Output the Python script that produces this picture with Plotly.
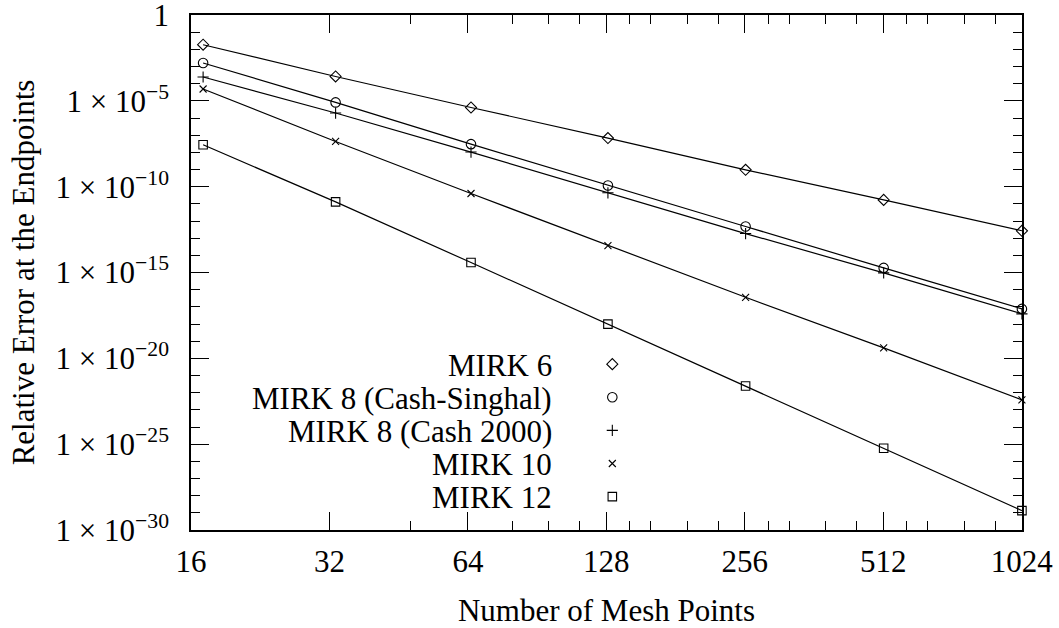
import plotly.graph_objects as go
import numpy as np

# Data
mesh_points = [17, 33, 65, 129, 257, 513, 1025]
mirk6 = [1.86e-2, 2.63e-4, 4.1e-6, 6.8e-8, 9.6e-10, 1.7e-11, 2.7e-13]
mirk8_cs = [1.6e-3, 8.1e-6, 3.0e-8, 1.17e-10, 4.8e-13, 1.86e-15, 7.6e-18]
mirk8_c2000 = [2.45e-4, 1.95e-6, 1.04e-8, 4.4e-11, 1.86e-13, 9.5e-16, 3.9e-18]
mirk10 = [4.9e-5, 4.3e-8, 4.0e-11, 3.7e-14, 3.6e-17, 4.1e-20, 3.8e-23]
mirk12 = [2.75e-8, 1.3e-11, 3.8e-15, 9.8e-19, 2.45e-22, 5.75e-26, 1.35e-29]

series_names = ["MIRK 6", "MIRK 8 (Cash-Singhal)", "MIRK 8 (Cash 2000)", "MIRK 10", "MIRK 12"]
series_values = [mirk6, mirk8_cs, mirk8_c2000, mirk10, mirk12]
symbols = ["diamond-open", "circle-open", "cross-thin-open", "x-thin-open", "square-open"]
sizes = [8.5, 9.5, 8, 7, 8.5]

x_ticks = [16, 32, 64, 128, 256, 512, 1024]
x_minor = [48, 80, 96, 112, 144, 160, 192, 224, 288, 320, 384, 448, 576, 640, 768, 896]
y_exps = [0, -5, -10, -15, -20, -25, -30]
y_ticktext = ["1"] + [f"1 × 10<sup>−{-e}</sup>" for e in y_exps[1:]]

FONT = "Liberation Serif, Times New Roman, serif"
FS = 31

fig = go.Figure()
for name, vals, sym, sz in zip(series_names, series_values, symbols, sizes):
    fig.add_trace(go.Scatter(
        x=mesh_points, y=vals, mode="lines+markers", name=name,
        line=dict(color="black", width=1.2),
        marker=dict(symbol=sym, size=sz, color="black",
                    line=dict(color="black", width=1.1)),
        cliponaxis=False, showlegend=False,
    ))

# Custom legend: right-aligned labels with markers on the right
leg_top = 0.322
leg_step = 0.0643
for i, (name, sym, sz) in enumerate(zip(series_names, symbols, sizes)):
    yy = leg_top - i * leg_step
    fig.add_trace(go.Scatter(
        x=[0.507], y=[yy], mode="markers", xaxis="x2", yaxis="y2",
        marker=dict(symbol=sym, size=sz, color="black",
                    line=dict(color="black", width=1.1)),
        cliponaxis=False, showlegend=False, hoverinfo="skip",
    ))
    fig.add_annotation(x=0.436, y=yy - 0.002, xref="paper", yref="paper",
                       text=name, showarrow=False, xanchor="right", yanchor="middle",
                       borderpad=0,
                       font=dict(family=FONT, size=FS, color="black"))

axis_common = dict(
    showline=True, linecolor="black", linewidth=1.6, mirror="allticks",
    ticks="inside", ticklen=18, tickwidth=1.1, tickcolor="black",
    showgrid=False, zeroline=False, ticklabeloverflow="allow", automargin=False,
    tickfont=dict(family=FONT, size=FS, color="black"),
)

fig.update_layout(
    width=1059, height=628,
    margin=dict(l=191, r=37, t=15, b=98),
    paper_bgcolor="white", plot_bgcolor="white",
    font=dict(family=FONT, size=FS, color="black"),
    xaxis=dict(
        type="log", range=[np.log10(16), np.log10(1024) + 0.0006],
        tickmode="array", tickvals=x_ticks, ticktext=[str(v) for v in x_ticks],
        minor=dict(tickmode="array", tickvals=x_minor, ticks="inside", ticklen=9,
                   tickwidth=1.1, tickcolor="black", showgrid=False),
        title=dict(text="Number of Mesh Points", font=dict(family=FONT, size=FS, color="black"),
                   standoff=29),
        ticklabelstandoff=3,
        **axis_common,
    ),
    yaxis=dict(
        type="log", range=[-30, 0.0006],
        tickmode="array", tickvals=[10.0 ** e for e in y_exps], ticktext=y_ticktext,
        minor=dict(tickmode="array", tickvals=[10.0 ** (-k) for k in range(1, 30)], ticks="inside",
                   ticklen=9, tickwidth=1.1, tickcolor="black", showgrid=False),
        title=dict(text="Relative Error at the Endpoints", font=dict(family=FONT, size=FS, color="black"),
                   standoff=12),
        ticklabelstandoff=14,
        **axis_common,
    ),
    xaxis2=dict(overlaying="x", range=[0, 1], visible=False),
    yaxis2=dict(overlaying="y", range=[0, 1], visible=False),
    showlegend=False,
)

fig.write_html("out.html")
